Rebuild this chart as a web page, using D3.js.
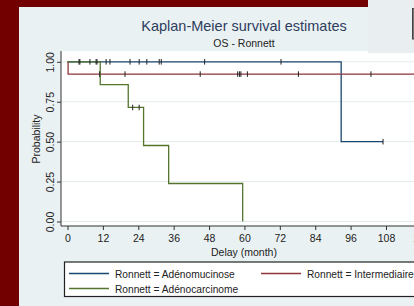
<!DOCTYPE html>
<html>
<head>
<meta charset="utf-8">
<script src="https://cdn.jsdelivr.net/npm/d3@7"></script>
<style>
  body { margin: 0; background: #720000; }
  svg { display: block; font-family: "Liberation Sans", Arial, sans-serif; }
</style>
</head>
<body>
<script>
// Kaplan-Meier steps (months, survival)
var blueTime = [0, 92.8];
var blueSurv = [1, 0.5];
var blueEnd = 107;
var blueCensor1 = [3.9, 4.2, 7.6, 9.7, 10.0, 13.1, 14.4, 21.2, 24.3, 26.9, 31.1, 31.8, 46.5, 72.4];
var blueCensor2 = [107];

var redTime = [0, 0.2];
var redSurv = [1, 0.923];
var redEnd = 130;
var redCensor = [10.9, 19.5, 45.0, 57.7, 58.3, 58.8, 61.0, 78.3, 102.9];

var greenTime = [0, 11.1, 20.6, 25.8, 34.3, 59.4];
var greenSurv = [1, 0.857, 0.714, 0.476, 0.238, 0];
var greenEnd = 59.4;
var greenCensor = [22.1, 24.3];

var xTicks = [0, 12, 24, 36, 48, 60, 72, 84, 96, 108, 120];
var yTicks = [0, 0.25, 0.5, 0.75, 1];

var legendLabels = ["Ronnett = Adénomucinose", "Ronnett = Intermediaire", "Ronnett = Adénocarcinome"];
var colors = ["#1a476f", "#90353b", "#55752f"];

var svgWidth = 414;
var svgHeight = 306;

var svg = d3.select("body")
  .append("svg")
  .attr("width", svgWidth)
  .attr("height", svgHeight);

// dark red desktop, then the graph panel
svg.append("rect").attr("width", svgWidth).attr("height", svgHeight).attr("fill", "#720000");
svg.append("rect").attr("x", 19).attr("y", 7).attr("width", svgWidth - 19).attr("height", svgHeight - 7)
  .attr("fill", "#eaf1f3");

// plot region
var plotLeft = 61, plotTop = 51, plotBottom = 226;
svg.append("rect").attr("x", plotLeft).attr("y", plotTop)
  .attr("width", svgWidth - plotLeft).attr("height", plotBottom - plotTop)
  .attr("fill", "#ffffff");

var x = d3.scaleLinear().domain([0, 120]).range([67.5, 67.5 + 120 * 2.949]);
var y = d3.scaleLinear().domain([0, 1]).range([221.5, 61.8]);

// grid lines
svg.append("g").selectAll("line")
  .data(yTicks)
  .enter().append("line")
  .attr("x1", plotLeft).attr("x2", svgWidth)
  .attr("y1", d => y(d)).attr("y2", d => y(d))
  .attr("stroke", "#e4ebed").attr("stroke-width", 1);

// step path
function stepPath(times, surv, end) {
  var pts = [];
  for (var i = 0; i < times.length; i++) {
    if (i > 0) pts.push([times[i], surv[i - 1]]);
    pts.push([times[i], surv[i]]);
  }
  pts.push([end, surv[surv.length - 1]]);
  return d3.line().x(d => x(d[0])).y(d => y(d[1]))(pts);
}

var curves = svg.append("g");
curves.append("path").attr("d", stepPath(blueTime, blueSurv, blueEnd))
  .attr("fill", "none").attr("stroke", colors[0]).attr("stroke-width", 1.3);
curves.append("path").attr("d", stepPath(redTime, redSurv, redEnd))
  .attr("fill", "none").attr("stroke", colors[1]).attr("stroke-width", 1.3);
curves.append("path").attr("d", stepPath(greenTime, greenSurv, greenEnd))
  .attr("fill", "none").attr("stroke", colors[2]).attr("stroke-width", 1.3);

// censor marks
function censor(times, level) {
  curves.append("g").selectAll("line")
    .data(times)
    .enter().append("line")
    .attr("x1", d => x(d)).attr("x2", d => x(d))
    .attr("y1", y(level) - 2.8).attr("y2", y(level) + 2.8)
    .attr("stroke", "#222").attr("stroke-width", 1);
}
censor(blueCensor1, 1);
censor(blueCensor2, 0.5);
censor(redCensor, 0.923);
censor(greenCensor, 0.714);

// axes
var leftAxis = d3.axisLeft(y).tickValues(yTicks).tickSize(4).tickFormat(d3.format(".2f"));
var gy = svg.append("g").attr("transform", `translate(${plotLeft},0)`).call(leftAxis);
gy.select(".domain").remove();
gy.selectAll("line").attr("stroke", "#333");
gy.selectAll("text")
  .attr("x", 0).attr("dy", 0)
  .attr("transform", "translate(-7,0) rotate(-90)")
  .attr("text-anchor", "middle")
  .attr("font-size", 10.5).attr("fill", "#222")
  .attr("font-family", "Liberation Sans, Arial, sans-serif");
svg.append("line").attr("x1", plotLeft).attr("x2", plotLeft).attr("y1", plotTop).attr("y2", plotBottom)
  .attr("stroke", "#333").attr("stroke-width", 1);

var bottomAxis = d3.axisBottom(x).tickValues(xTicks).tickSize(4).tickFormat(d3.format("d"));
var gx = svg.append("g").attr("transform", `translate(0,${plotBottom})`).call(bottomAxis);
gx.select(".domain").remove();
gx.selectAll("line").attr("stroke", "#333");
gx.selectAll("text").attr("y", 9).attr("font-size", 10.5).attr("fill", "#222")
  .attr("font-family", "Liberation Sans, Arial, sans-serif");
svg.append("line").attr("x1", plotLeft).attr("x2", svgWidth).attr("y1", plotBottom).attr("y2", plotBottom)
  .attr("stroke", "#333").attr("stroke-width", 1);

// axis titles
svg.append("text").attr("x", 244).attr("y", 256).attr("text-anchor", "middle")
  .attr("font-size", 10.5).attr("fill", "#222").text("Delay (month)");
svg.append("text").attr("transform", "translate(40,139) rotate(-90)").attr("text-anchor", "middle")
  .attr("font-size", 10.5).attr("fill", "#222").text("Probability");

// titles
svg.append("text").attr("x", 244).attr("y", 31).attr("text-anchor", "middle")
  .attr("font-size", 14.5).attr("fill", "#2e3d5e").text("Kaplan-Meier survival estimates");
svg.append("text").attr("x", 244).attr("y", 47).attr("text-anchor", "middle")
  .attr("font-size", 10.5).attr("fill", "#222").text("OS - Ronnett");

// legend
svg.append("rect").attr("x", 64.5).attr("y", 262).attr("width", 400).attr("height", 34.5)
  .attr("fill", "#fff").attr("stroke", "#222").attr("stroke-width", 1.2);
var legendPos = [[69, 273.5], [261, 273.5], [69, 288.5]];
var legend = svg.append("g").selectAll("g")
  .data(legendLabels)
  .enter().append("g")
  .attr("transform", (d, i) => `translate(${legendPos[i][0]},${legendPos[i][1]})`);
legend.append("line").attr("x1", 0).attr("x2", 40).attr("y1", 0).attr("y2", 0)
  .attr("stroke", (d, i) => colors[i]).attr("stroke-width", 1.3);
legend.append("text").attr("x", 46).attr("y", 4).attr("font-size", 10.2).attr("fill", "#222")
  .text(d => d);

// corner of the window overlapping at top right
svg.append("rect").attr("x", 368).attr("y", 0).attr("width", 46).attr("height", 53).attr("fill", "#e9eff1");
svg.append("rect").attr("x", 412.5).attr("y", 8.5).attr("width", 3).attr("height", 30.5)
  .attr("fill", "#777").attr("stroke", "#444").attr("stroke-width", 1);
</script>
</body>
</html>
